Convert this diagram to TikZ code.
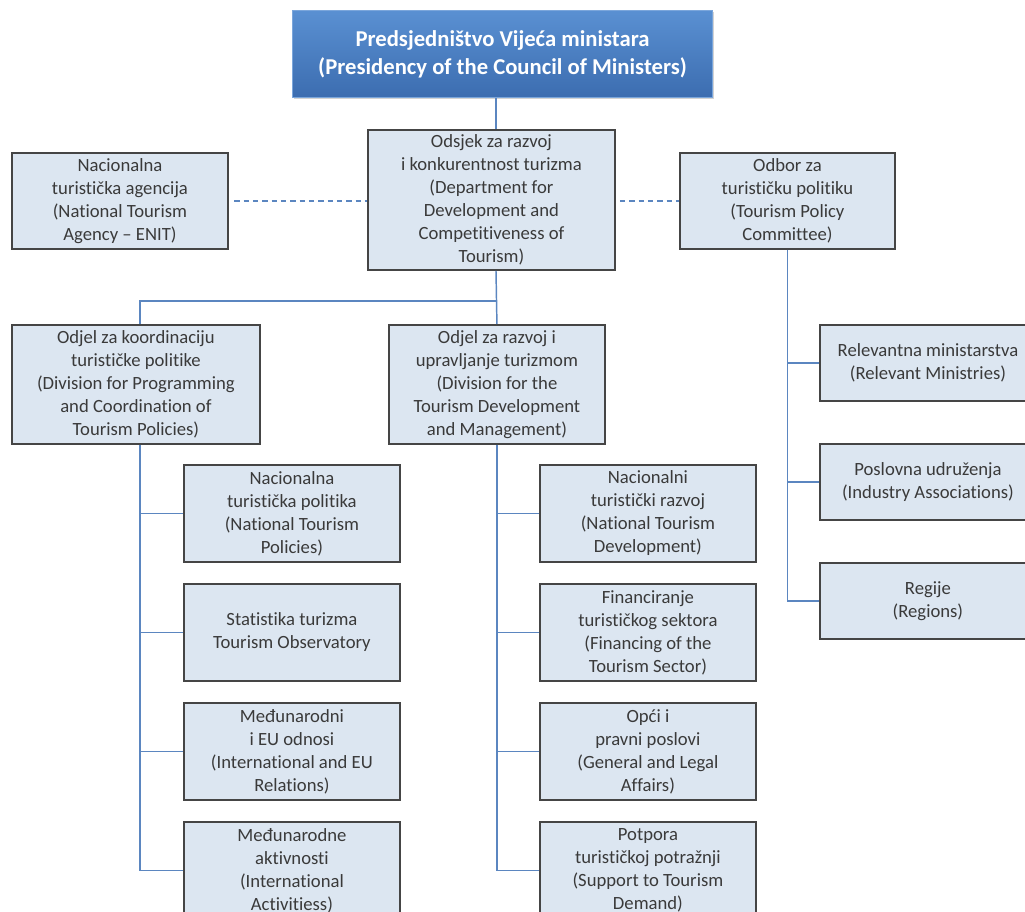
\documentclass[tikz,border=0pt]{standalone}
\usepackage{fontspec}
\setmainfont{Carlito}[Ligatures=NoCommon]
\usetikzlibrary{shadows}
\definecolor{linkblue}{HTML}{5B86C0}
\definecolor{boxfill}{HTML}{DCE6F1}
\definecolor{boxgray}{HTML}{454545}
\definecolor{textgray}{HTML}{3A3A3A}
\definecolor{headtop}{HTML}{5A90D2}
\definecolor{headbot}{HTML}{3C6DB0}
\tikzset{
  unit/.style 2 args={draw=boxgray, line width=1.4pt, fill=boxfill, text=textgray,
    align=center, anchor=north west, inner sep=0pt,
    minimum width=#1*0.75pt, minimum height=#2*0.75pt,
    font=\fontsize{14}{17.25}\selectfont,
    drop shadow={shadow xshift=0.8pt, shadow yshift=-0.8pt, opacity=0.3}},
  head/.style={draw=headtop!80!white, line width=0.8pt, top color=headtop, bottom color=headbot,
    text=white, align=center, anchor=north west, inner sep=0pt,
    minimum width=420*0.75pt, minimum height=87*0.75pt,
    font=\fontsize{17}{21}\selectfont\bfseries,
    drop shadow={shadow xshift=1pt, shadow yshift=-1pt, opacity=0.35}},
  link/.style={draw=linkblue, line width=1.1pt},
}
\begin{document}
\begin{tikzpicture}[x=0.75pt,y=-0.75pt]
\useasboundingbox (0,0) rectangle (1025,912);
\clip (0,0) rectangle (1025,912);

% upper levels
\node[head] (pvm) at (292,10) {Predsjedništvo Vijeća ministara\\(Presidency of the Council of Ministers)};
\node[unit={247}{140}] (odsjek) at (367,129) {Odsjek za razvoj\\i konkurentnost turizma\\(Department for\\Development and\\Competitiveness of\\Tourism)};
\node[unit={216}{96}] (enit) at (11,152) {Nacionalna\\turistička agencija\\(National Tourism\\Agency -- ENIT)};
\node[unit={215}{96}] (odbor) at (679,152) {Odbor za\\turističku politiku\\(Tourism Policy\\Committee)};
\node[unit={248}{119}] (koord) at (11,324) {Odjel za koordinaciju\\turističke politike\\(Division for Programming\\and Coordination of\\Tourism Policies)};
\node[unit={216}{119}] (razvoj) at (388,324) {Odjel za razvoj i\\upravljanje turizmom\\(Division for the\\Tourism Development\\and Management)};
\coordinate (split) at (496,301);

\draw[link] (pvm.south -| split) -- (odsjek.north -| split);
\draw[link] (odsjek.south -| split) -- (razvoj.north);
\draw[link] (split) -| ([xshift=3pt]koord.north);
\draw[link, dashed, dash pattern=on 4pt off 3pt] ([xshift=4pt]enit.east) -- (enit.east -| odsjek.west);
\draw[link, dashed, dash pattern=on 4pt off 3pt] ([xshift=3pt]odsjek.east |- odbor.west) -- (odbor.west);

% partners of the committee
\foreach \y/\nm/\txt in {324/rel/{Relevantna ministarstva\\(Relevant Ministries)},
                        443/pos/{Poslovna udruženja\\(Industry Associations)},
                        562/reg/{Regije\\(Regions)}} {
  \node[unit={216}{76}] (\nm) at (819,\y) {\txt};
  \draw[link] (odbor.south) |- (\nm.west);
}

% sections of the two divisions
\foreach \y/\nm/\txt in {464/l1/{Nacionalna\\turistička politika\\(National Tourism\\Policies)},
                        583/l2/{Statistika turizma\\Tourism Observatory},
                        702/l3/{Međunarodni\\i EU odnosi\\(International and EU\\Relations)},
                        821/l4/{Međunarodne\\aktivnosti\\(International\\Activitiess)}} {
  \node[unit={216}{97}] (\nm) at (183,\y) {\txt};
  \draw[link] ([xshift=3pt]koord.south) |- (\nm.west);
}
\foreach \y/\nm/\txt in {464/m1/{Nacionalni\\turistički razvoj\\(National Tourism\\Development)},
                        583/m2/{Financiranje\\turističkog sektora\\(Financing of the\\Tourism Sector)},
                        702/m3/{Opći i\\pravni poslovi\\(General and Legal\\Affairs)},
                        821/m4/{Potpora\\turističkoj potražnji\\(Support to Tourism\\Demand)}} {
  \node[unit={216}{97}] (\nm) at (539,\y) {\txt};
  \draw[link] (razvoj.south) |- (\nm.west);
}
\end{tikzpicture}
\end{document}
